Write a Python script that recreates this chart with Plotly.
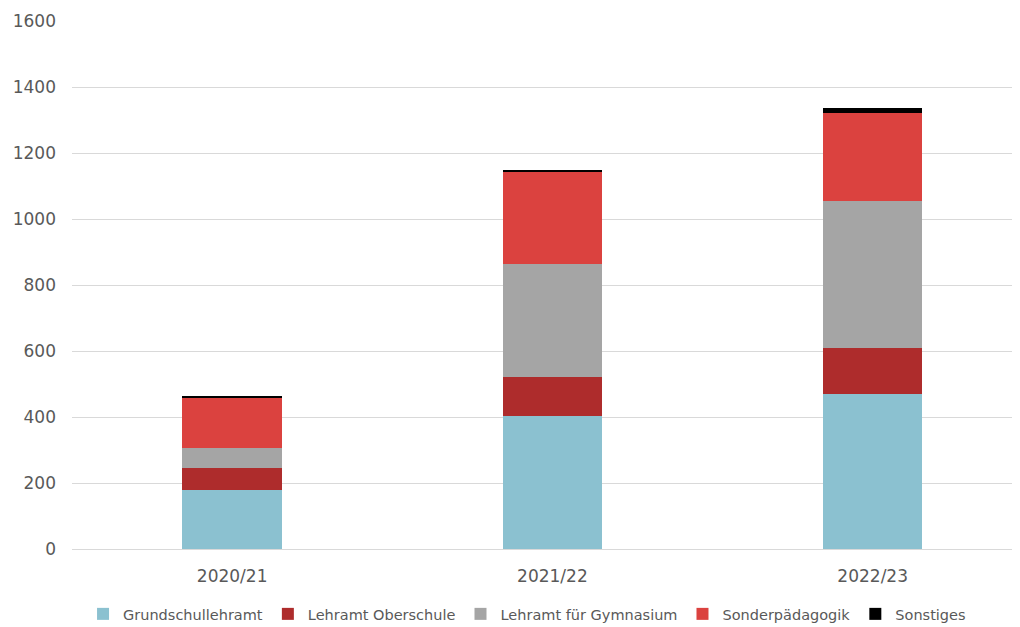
import plotly.graph_objects as go

categories = ["2020/21", "2021/22", "2022/23"]
series_names = ["Grundschullehramt", "Lehramt Oberschule", "Lehramt für Gymnasium", "Sonderpädagogik", "Sonstiges"]
grundschule = [180, 404, 471]
oberschule = [64, 117, 139]
gymnasium = [62, 342, 444]
sonderpaed = [152, 280, 266]
sonstiges = [6, 7, 15]
colors = ["#8BC1D0", "#AE2C2C", "#A5A5A5", "#DB423F", "#000000"]
y_ticks = [0, 200, 400, 600, 800, 1000, 1200, 1400, 1600]

fig = go.Figure()
for name, vals, col in zip(series_names, [grundschule, oberschule, gymnasium, sonderpaed, sonstiges], colors):
    fig.add_trace(go.Bar(x=categories, y=vals, name=name, marker=dict(color=col, line=dict(width=0)),
                         width=0.31))

font_family = "'DejaVu Sans', sans-serif"
fig.update_layout(
    barmode="stack",
    width=1012, height=619,
    margin=dict(l=64, r=0, t=13, b=78, autoexpand=False),
    paper_bgcolor="white", plot_bgcolor="white",
    font=dict(family=font_family, size=16, color="#595959"),
    legend=dict(orientation="h", x=0.48, xanchor="center",
                y=-0.123, yanchor="middle", font=dict(size=14.5, color="#595959"),
                traceorder="normal", itemwidth=30),
    xaxis=dict(type="category", range=[-0.5, 2.46], showgrid=False, showline=True,
               linecolor="#D9D9D9", linewidth=1, ticks="", ticklabelstandoff=12,
               tickfont=dict(size=17, color="#595959")),
    yaxis=dict(range=[0, 1600], tickvals=y_ticks, showgrid=True, gridcolor="#D9D9D9", gridwidth=1,
               zeroline=False, showline=False, ticks="", ticklabelstandoff=15,
               tickfont=dict(size=17, color="#595959")),
)
fig.write_html("out.html")
